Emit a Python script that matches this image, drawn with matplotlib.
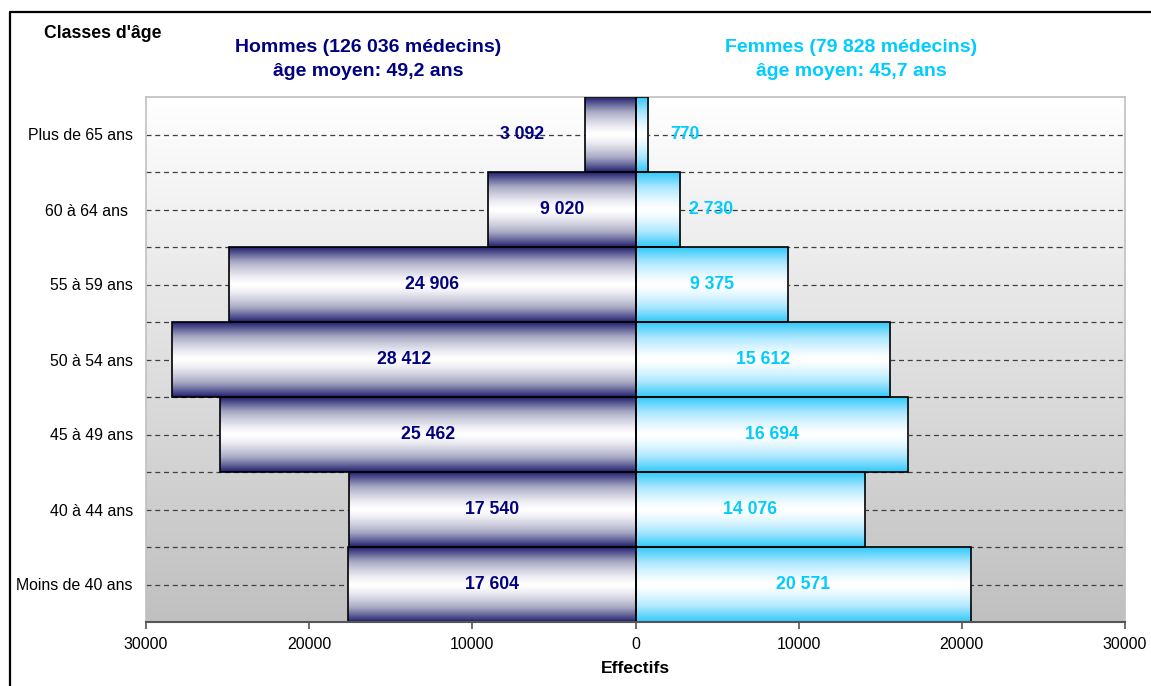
import numpy as np
import matplotlib.pyplot as plt
from matplotlib.colors import LinearSegmentedColormap
from matplotlib.lines import Line2D

plt.rcParams['font.family'] = ['Liberation Sans', 'DejaVu Sans']

# Data
categories = ["Moins de 40 ans", "40 à 44 ans", "45 à 49 ans", "50 à 54 ans",
              "55 à 59 ans", "60 à 64 ans ", "Plus de 65 ans"]
hommes = [17604, 17540, 25462, 28412, 24906, 9020, 3092]
femmes = [20571, 14076, 16694, 15612, 9375, 2730, 770]
xticks = [-30000, -20000, -10000, 0, 10000, 20000, 30000]

navy = '#000080'
cyan = '#00ccff'

fig = plt.figure(figsize=(11.51, 6.86), dpi=100, facecolor='w')
ax = fig.add_axes([146/1151, 1-622/686, (1125-146)/1151, (622-97)/686])

y = np.arange(len(categories))

# background gradient white -> grey
bg = np.linspace(0, 1, 256).reshape(-1, 1)
bg_cmap = LinearSegmentedColormap.from_list('bg', ['#c0c0c0', '#ffffff'])
ax.imshow(bg, extent=[-30000, 30000, -0.5, len(categories)-0.5], origin='lower',
          aspect='auto', cmap=bg_cmap, zorder=0)

# dashed grid lines, at category centres and band boundaries
ax.hlines(y, -30000, 30000, colors='#404040', linestyles=(0, (4, 3)), lw=0.9, zorder=1)
ax.hlines(y[:-1] + 0.5, -30000, 30000, colors='#404040', linestyles=(0, (4, 3)), lw=0.9, zorder=1)

bars_h = ax.barh(y, [-v for v in hommes], height=1.0, facecolor='none',
                 edgecolor='black', lw=1.2, zorder=3)
bars_f = ax.barh(y, femmes, height=1.0, facecolor='none',
                 edgecolor='black', lw=1.2, zorder=3)

# vertical gradient inside each bar (coloured edges, white middle)
t = np.linspace(0, 1, 400)
prof = (np.abs(t - 0.5) * 2) ** 1.4
grad = prof.reshape(-1, 1)
cmap_h = LinearSegmentedColormap.from_list('h', ['#ffffff', '#a8a8c4', '#1e1e6e'])
cmap_f = LinearSegmentedColormap.from_list('f', ['#ffffff', '#a6e6ff', '#2ec8fa'])
for bars, cm in [(bars_h, cmap_h), (bars_f, cmap_f)]:
    for p in bars:
        x0, y0, w, h = p.get_x(), p.get_y(), p.get_width(), p.get_height()
        ax.imshow(grad, extent=[min(x0, x0+w), max(x0, x0+w), y0, y0+h],
                  origin='lower', aspect='auto', cmap=cm, zorder=2,
                  interpolation='antialiased')

# value labels (small bars have their label moved out of the bar)
fmt = lambda v: f"{v:,}".replace(",", " ")
shift_h = {6: -6980}
shift_f = {6: 3060, 5: 4650}
for i, v in enumerate(hommes):
    ax.text(shift_h.get(i, -v/2), y[i], fmt(v), color=navy, fontsize=12.7,
            fontweight='bold', ha='center', va='center', zorder=4)
for i, v in enumerate(femmes):
    ax.text(shift_f.get(i, v/2), y[i], fmt(v), color=cyan, fontsize=12.7,
            fontweight='bold', ha='center', va='center', zorder=4)

ax.set_xlim(-30000, 30000)
ax.set_ylim(-0.5, len(categories)-0.5)
ax.set_xticks(xticks)
ax.set_xticklabels([str(abs(v)) for v in xticks], fontsize=11.4)
ax.set_yticks(y)
ax.set_yticklabels(categories, fontsize=11.4)
ax.tick_params(axis='y', length=0, pad=9.5)
ax.tick_params(axis='x', length=5, width=1.2, color='#555555', pad=6)
for s in ['top', 'right', 'left']:
    ax.spines[s].set_color('#c0c0c0')
    ax.spines[s].set_linewidth(1.2)
ax.spines['bottom'].set_color('#555555')
ax.spines['bottom'].set_linewidth(1.5)
ax.spines['bottom'].set_zorder(5)

ax.set_xlabel('Effectifs', fontsize=12.6, fontweight='bold', labelpad=6)

# titles
fig.text(103/1151, 1-33/686, "Classes d'âge", fontsize=12.7, fontweight='bold',
         ha='center', va='center')
fig.text(368/1151, 1-47/686, "Hommes (126 036 médecins)", fontsize=14, fontweight='bold',
         color=navy, ha='center', va='center')
fig.text(368/1151, 1-72/686, "âge moyen: 49,2 ans", fontsize=14, fontweight='bold',
         color=navy, ha='center', va='center')
fig.text(851/1151, 1-47/686, "Femmes (79 828 médecins)", fontsize=14, fontweight='bold',
         color=cyan, ha='center', va='center')
fig.text(851/1151, 1-72/686, "âge moyen: 45,7 ans", fontsize=14, fontweight='bold',
         color=cyan, ha='center', va='center')

# outer frame (top and left)
fig.add_artist(Line2D([10/1151, 10/1151, 1], [0, 1-12/686, 1-12/686],
                      transform=fig.transFigure, color='black', lw=1.6))

plt.savefig('out.png', dpi=100, facecolor='w')
